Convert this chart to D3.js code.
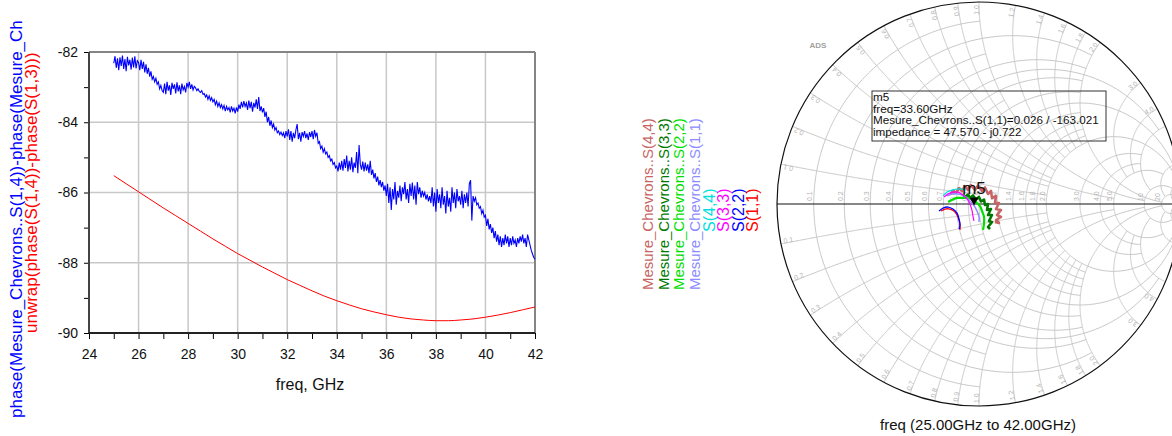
<!DOCTYPE html>
<html><head><meta charset="utf-8">
<script src="https://cdn.jsdelivr.net/npm/d3@7"></script>
<style>
html,body{margin:0;padding:0;background:#fff;}
svg{display:block;font-family:"Liberation Sans",Arial,sans-serif;}
</style></head>
<body>
<svg id="chart" width="1172" height="436"></svg>
<script>
// ---------------- DATA ----------------
const xTicks = [24,26,28,30,32,34,36,38,40,42];
const yTicks = [-90,-88,-86,-84,-82];
const freqStart = 25, freqStepBlue = 0.05, freqStepRed = 0.5;
const bluePhase = [
-82.32,-82.12,-82.45,-82.18,-82.52,-82.15,-82.40,-82.10,-82.48,-82.20,-82.55,-82.14,-82.38,-82.22,-82.50,-82.16,-82.44,-82.12,-82.47,-82.25,
-82.30,-82.52,-82.22,-82.48,-82.28,-82.58,-82.35,-82.62,-82.45,-82.70,-82.55,-82.78,-82.70,-82.85,-82.75,-82.92,-82.85,-83.05,-82.95,-83.10,
-83.15,-82.90,-83.20,-82.85,-83.10,-82.95,-83.22,-82.88,-83.05,-82.92,-83.18,-82.86,-83.12,-82.95,-83.20,-82.90,-83.08,-82.98,-83.15,-82.88,
-83.00,-82.85,-83.05,-82.92,-83.08,-82.98,-83.02,-83.10,-83.05,-83.12,-83.15,-83.10,-83.20,-83.18,-83.28,-83.22,-83.35,-83.25,-83.38,-83.30,
-83.42,-83.35,-83.50,-83.40,-83.55,-83.45,-83.58,-83.50,-83.62,-83.52,-83.68,-83.55,-83.65,-83.58,-83.72,-83.55,-83.68,-83.60,-83.75,-83.58,
-83.70,-83.50,-83.62,-83.42,-83.58,-83.40,-83.55,-83.45,-83.65,-83.38,-83.60,-83.42,-83.70,-83.45,-83.58,-83.35,-83.62,-83.28,-83.68,-83.55,
-83.72,-83.60,-83.85,-83.70,-84.00,-83.85,-84.10,-83.95,-84.15,-84.05,-84.22,-84.15,-84.30,-84.25,-84.35,-84.28,-84.38,-84.30,-84.45,-84.25,
-84.40,-84.20,-84.50,-84.25,-84.55,-84.30,-84.45,-84.22,-84.05,-84.48,-84.30,-84.55,-84.28,-84.40,-84.25,-84.45,-84.32,-84.50,-84.28,-84.42,
-84.25,-84.48,-84.22,-84.40,-84.30,-84.60,-84.55,-84.75,-84.68,-84.85,-84.75,-84.90,-84.85,-85.00,-84.95,-85.10,-85.05,-85.20,-85.15,-85.30,
-85.25,-85.40,-85.15,-85.35,-85.10,-85.38,-85.05,-85.30,-84.95,-85.40,-85.10,-85.35,-85.00,-85.42,-85.15,-85.30,-84.85,-85.45,-84.65,-85.20,
-85.35,-85.12,-85.40,-85.15,-85.38,-85.20,-85.45,-85.10,-85.50,-85.35,-85.60,-85.45,-85.70,-85.55,-85.80,-85.65,-85.85,-85.70,-85.95,-85.80,
-86.10,-85.75,-86.30,-85.85,-86.50,-85.90,-86.20,-85.70,-86.35,-85.95,-86.15,-85.80,-86.25,-85.85,-86.05,-85.70,-86.20,-85.90,-86.30,-85.75,
-86.10,-85.72,-86.20,-85.80,-86.35,-85.70,-86.05,-85.85,-86.15,-85.95,-86.10,-86.00,-86.20,-86.05,-86.25,-86.10,-86.30,-85.85,-86.40,-86.00,
-86.55,-85.90,-86.30,-86.05,-86.45,-85.85,-86.35,-86.10,-86.60,-85.95,-86.40,-86.15,-86.55,-85.85,-86.30,-86.00,-86.45,-85.90,-86.25,-86.10,
-86.35,-85.95,-86.45,-86.05,-86.30,-86.00,-86.40,-85.75,-85.65,-86.80,-86.10,-86.25,-86.15,-86.35,-86.30,-86.45,-86.40,-86.60,-86.50,-86.70,
-86.65,-86.95,-86.75,-87.05,-86.90,-87.15,-87.00,-87.30,-87.10,-87.40,-87.20,-87.50,-87.25,-87.55,-87.30,-87.50,-87.20,-87.45,-87.25,-87.55,
-87.30,-87.50,-87.25,-87.45,-87.35,-87.55,-87.30,-87.45,-87.25,-87.40,-87.20,-87.45,-87.30,-87.55,-87.20,-87.35,-87.50,-87.65,-87.75,-87.85,
-87.90
];
const redUnwrap = [
-85.52,-85.75,-85.98,-86.21,-86.44,-86.66,-86.88,-87.10,-87.32,-87.53,
-87.74,-87.93,-88.12,-88.30,-88.48,-88.64,-88.80,-88.95,-89.08,-89.20,
-89.31,-89.40,-89.48,-89.55,-89.60,-89.63,-89.65,-89.65,-89.63,-89.60,
-89.55,-89.49,-89.42,-89.34,-89.26
];
const yLabelBlue = "phase(Mesure_Chevrons..S(1,4))-phase(Mesure_Ch";
const yLabelRed = "unwrap(phase(S(1,4))-phase(S(1,3)))";
const xLabelLeft = "freq, GHz";

// Smith chart grid values: [value, limit of the other coordinate]
const smithGrid = [[0.1,1],[0.2,2],[0.3,1],[0.4,2],[0.5,5],[0.6,2],[0.7,1],[0.8,2],[0.9,1],[1.0,10],
  [1.2,2],[1.4,2],[1.6,2],[1.8,2],[2.0,20],[3,5],[4,5],[5,10],[10,20],[20,50],[50,Infinity]];
const smithLabels = [0.1,0.2,0.3,0.4,0.5,0.6,0.7,0.8,0.9,1.0,1.2,1.4,1.6,1.8,2.0,3.0,4.0,5.0,10,20,50];

// Reflection coefficient traces [re, im]
const trS44m = [[-0.1386,0.0495],[-0.1287,0.0668],[-0.1139,0.0545],[-0.0990,0.0792],[-0.0842,0.0644],[-0.0693,0.0891],[-0.0545,0.0693],[-0.0396,0.0941],[-0.0198,0.0693],[-0.0050,0.0916],[0.0149,0.0644],[0.0297,0.0817],[0.0446,0.0495],[0.0594,0.0644],[0.0644,0.0297],[0.0842,0.0396],[0.0792,0.0050],[0.0990,0.0050],[0.0842,-0.0248],[0.1089,-0.0297],[0.0891,-0.0545],[0.1089,-0.0644],[0.0842,-0.0792],[0.0990,-0.0941],[0.0792,-0.0891]];
const trS33m = [[-0.0792,0.0495],[-0.0693,0.0322],[-0.0545,0.0470],[-0.0446,0.0297],[-0.0297,0.0421],[-0.0149,0.0223],[0.0,0.0347],[0.0099,0.0124],[0.0248,0.0223],[0.0297,-0.0050],[0.0446,0.0],[0.0396,-0.0297],[0.0594,-0.0248],[0.0446,-0.0545],[0.0644,-0.0545],[0.0495,-0.0842],[0.0644,-0.0891],[0.0446,-0.1139],[0.0545,-0.1238]];
const trS22m = [[-0.153,0.010],[-0.134,0.020],[-0.109,0.030],[-0.084,0.030],[-0.059,0.030],[-0.035,0.025],[-0.015,0.010],[0.005,-0.010],[0.015,-0.035],[0.025,-0.064],[0.025,-0.094],[0.020,-0.129]];
const trS11m = [[-0.158,0.040],[-0.134,0.050],[-0.104,0.050],[-0.074,0.040],[-0.050,0.020],[-0.025,-0.0076],[-0.010,-0.035],[0.0,-0.064],[0.0,-0.089]];
const trS44 = [[-0.178,0.040],[-0.158,0.059],[-0.134,0.069],[-0.109,0.074],[-0.084,0.074],[-0.064,0.069]];
const trS33 = [[-0.173,0.035],[-0.153,0.050],[-0.129,0.059],[-0.104,0.059],[-0.079,0.045],[-0.059,0.025],[-0.045,0.0],[-0.035,-0.030],[-0.030,-0.059],[-0.025,-0.084]];
const trS22 = [[-0.198,-0.035],[-0.178,-0.020],[-0.153,-0.015],[-0.129,-0.025],[-0.109,-0.045],[-0.099,-0.074],[-0.094,-0.104],[-0.099,-0.124]];
const trS11 = [[-0.188,-0.035],[-0.168,-0.025],[-0.144,-0.025],[-0.124,-0.035],[-0.109,-0.054],[-0.099,-0.079],[-0.094,-0.104],[-0.094,-0.129]];

const legendLong = ["Mesure_Chevrons..S(4,4)","Mesure_Chevrons..S(3,3)","Mesure_Chevrons..S(2,2)","Mesure_Chevrons..S(1,1)"];
const legendShort = ["S(4,4)","S(3,3)","S(2,2)","S(1,1)"];
const markerName = "m5", markerFreq = 33.60, markerMag = 0.026, markerAng = -163.021;
const markerLines = ["m5","freq=33.60GHz","Mesure_Chevrons..S(1,1)=0.026 / -163.021","impedance = 47.570 - j0.722"];
const smithXLabel = "freq (25.00GHz to 42.00GHz)";

// ---------------- LEFT CHART ----------------
const svg = d3.select("#chart");
const x = d3.scaleLinear().domain([24,42]).range([89,535]);
const y = d3.scaleLinear().domain([-90,-82]).range([333,52]);
const L = svg.append("g");

L.append("g").selectAll("line").data(xTicks.slice(1,-1)).join("line")
  .attr("x1",d=>x(d)).attr("x2",d=>x(d)).attr("y1",y(-82)).attr("y2",y(-90))
  .attr("stroke","#c8c8c8").attr("stroke-width",1.5);
L.append("g").selectAll("line").data(yTicks.slice(1,-1)).join("line")
  .attr("y1",d=>y(d)).attr("y2",d=>y(d)).attr("x1",x(24)).attr("x2",x(42))
  .attr("stroke","#c8c8c8").attr("stroke-width",1.5);

const xAxis = d3.axisBottom(x).tickValues(d3.range(24,43,1)).tickSize(6)
  .tickFormat(d=> xTicks.includes(d) ? d : "");
const gx = L.append("g").attr("transform",`translate(0,${y(-90)})`).call(xAxis);
gx.select(".domain").remove();
gx.selectAll("text").attr("font-size",14).attr("fill","#111").attr("dy","1.2em");
const yAxis = d3.axisLeft(y).tickValues(d3.range(-90,-81,1)).tickSize(5)
  .tickFormat(d=> yTicks.includes(d) ? d : "");
const gy = L.append("g").attr("transform",`translate(${x(24)},0)`).call(yAxis);
gy.select(".domain").remove();
gy.selectAll("text").attr("font-size",14).attr("fill","#111").attr("x",-11);
gy.selectAll("line").attr("x2",-5);

L.append("line").attr("x1",x(24)).attr("x2",x(42)).attr("y1",y(-82)).attr("y2",y(-82)).attr("stroke","#858585").attr("stroke-width",2);
L.append("line").attr("x1",x(42)).attr("x2",x(42)).attr("y1",y(-82)).attr("y2",y(-90)).attr("stroke","#858585").attr("stroke-width",2);
L.append("line").attr("x1",x(24)).attr("x2",x(24)).attr("y1",y(-82)).attr("y2",y(-90)).attr("stroke","#444").attr("stroke-width",2);
L.append("line").attr("x1",x(24)).attr("x2",x(42)).attr("y1",y(-90)).attr("y2",y(-90)).attr("stroke","#222").attr("stroke-width",2);

const blueLine = d3.line().x((d,i)=>x(freqStart+i*freqStepBlue)).y(d=>y(d));
L.append("path").datum(bluePhase).attr("d",blueLine).attr("fill","none").attr("stroke","#0000ff").attr("stroke-width",1.1);
const redLine = d3.line().x((d,i)=>x(freqStart+i*freqStepRed)).y(d=>y(d)).curve(d3.curveMonotoneX);
L.append("path").datum(redUnwrap).attr("d",redLine).attr("fill","none").attr("stroke","#ff0000").attr("stroke-width",1);

L.append("text").attr("transform","translate(22,418) rotate(-90)").attr("font-size",17).attr("fill","#0000ff").text(yLabelBlue);
L.append("text").attr("transform","translate(37,333) rotate(-90)").attr("font-size",17).attr("fill","#ff0000").text(yLabelRed);
L.append("text").attr("x",310).attr("y",390).attr("text-anchor","middle").attr("font-size",16).attr("fill","#111").text(xLabelLeft);

// ---------------- LEGEND ----------------
const longColors = ["#c86464","#007800","#00e000","#8c8cff"];
const shortColors = ["#00e0e0","#ff00ff","#0000ff","#ff0000"];
svg.append("g").selectAll("text").data(legendLong).join("text")
  .attr("transform",(d,i)=>`translate(${653+i*15.5},290) rotate(-90)`)
  .attr("font-size",15).attr("fill",(d,i)=>longColors[i]).text(d=>d);
svg.append("g").selectAll("text").data(legendShort).join("text")
  .attr("transform",(d,i)=>`translate(${715+i*14.3},232) rotate(-90)`)
  .attr("font-size",16).attr("fill",(d,i)=>shortColors[i]).text(d=>d);

// ---------------- SMITH CHART ----------------
const cx = 979, cy = 204, R = 202;
const sx = d3.scaleLinear().domain([-1,1]).range([cx-R,cx+R]);
const sy = d3.scaleLinear().domain([-1,1]).range([cy+R,cy-R]);
const S = svg.append("g");
const gam = (r,xx)=>{ const den=(r+1)*(r+1)+xx*xx; return [(r*r+xx*xx-1)/den, 2*xx/den]; };
const sline = d3.line().x(d=>sx(d[0])).y(d=>sy(d[1]));
const N = 240;
const grid = S.append("g").attr("fill","none").attr("stroke","#c8c8c8").attr("stroke-width",1);
smithGrid.forEach(([v,lim])=>{
  const t1 = Math.atan(lim);
  const pr = d3.range(N+1).map(i=>gam(v, Math.tan(-t1 + 2*t1*i/N)));
  grid.append("path").attr("d",sline(pr));
  [1,-1].forEach(sg=>{
    const px = d3.range(N+1).map(i=>gam(Math.tan(t1*i/N), sg*v));
    grid.append("path").attr("d",sline(px));
  });
});
S.append("circle").attr("cx",cx).attr("cy",cy).attr("r",R).attr("fill","none").attr("stroke","#111").attr("stroke-width",1.2);
S.append("line").attr("x1",sx(-1)).attr("x2",sx(1)).attr("y1",sy(0)).attr("y2",sy(0)).attr("stroke","#111").attr("stroke-width",1);

const fmt = v => v>=10 ? String(v) : v.toFixed(1);
const lab = S.append("g").attr("font-size",7).attr("fill","#b4b4b4");
const W = 1172;
smithLabels.forEach(v=>{
  const g = gam(v,0);
  if (sx(g[0]) < W-4)
    lab.append("text").attr("transform",`translate(${sx(g[0])-1.5},${sy(0)-3}) rotate(-90)`).text(fmt(v));
  [1,-1].forEach(sg=>{
    const e = gam(0, sg*v);
    const phi = Math.atan2(e[1], e[0])*180/Math.PI;
    const px = sx(e[0]*0.985), py = sy(e[1]*0.985);
    if (px > W-12) return;
    if (sg>0) lab.append("text").attr("transform",`translate(${px},${py}) rotate(${-phi})`).attr("text-anchor","end").text(fmt(v));
    else lab.append("text").attr("transform",`translate(${px},${py}) rotate(${180-phi})`).attr("text-anchor","start").text(fmt(v));
  });
});

S.append("text").attr("x",818).attr("y",48).attr("text-anchor","middle").attr("font-size",8).attr("font-weight","bold").attr("fill","#a0a0a0").text("ADS");

const traces = [
  [trS44m,"#c86464",2.6,d3.curveLinear],[trS33m,"#007800",2.6,d3.curveLinear],[trS22m,"#00e000",2.2,d3.curveCatmullRom],[trS11m,"#8c8cff",1.5,d3.curveCatmullRom],
  [trS44,"#00e0e0",1.2,d3.curveCatmullRom],[trS33,"#ff00ff",1.2,d3.curveCatmullRom],[trS11,"#ff0000",1.3,d3.curveCatmullRom],[trS22,"#0000ff",1.3,d3.curveCatmullRom]
];
traces.forEach(([d,c,w,cv])=>{
  S.append("path").datum(d).attr("d",d3.line().x(p=>sx(p[0])).y(p=>sy(p[1])).curve(cv)).attr("fill","none").attr("stroke",c).attr("stroke-width",w).attr("stroke-linejoin","round");
});

const mA = markerAng*Math.PI/180;
const mx = sx(markerMag*Math.cos(mA)), my = sy(markerMag*Math.sin(mA));
S.append("path").attr("d",`M${mx},${my} L${mx-4.5},${my-8} L${mx+4.5},${my-8} Z`).attr("fill","#000");
S.append("text").attr("x",mx).attr("y",my-12).attr("text-anchor","middle").attr("font-size",17).attr("fill","#111").text(markerName);

S.append("rect").attr("x",872).attr("y",91).attr("width",234).attr("height",50).attr("fill","none").attr("stroke","#333").attr("stroke-width",1);
S.append("g").selectAll("text").data(markerLines).join("text")
  .attr("x",873).attr("y",(d,i)=>101+i*11.6).attr("font-size",11.7).attr("fill","#111").text(d=>d);

S.append("text").attr("x",978).attr("y",430).attr("text-anchor","middle").attr("font-size",15).attr("fill","#111").text(smithXLabel);
</script>
</body></html>
